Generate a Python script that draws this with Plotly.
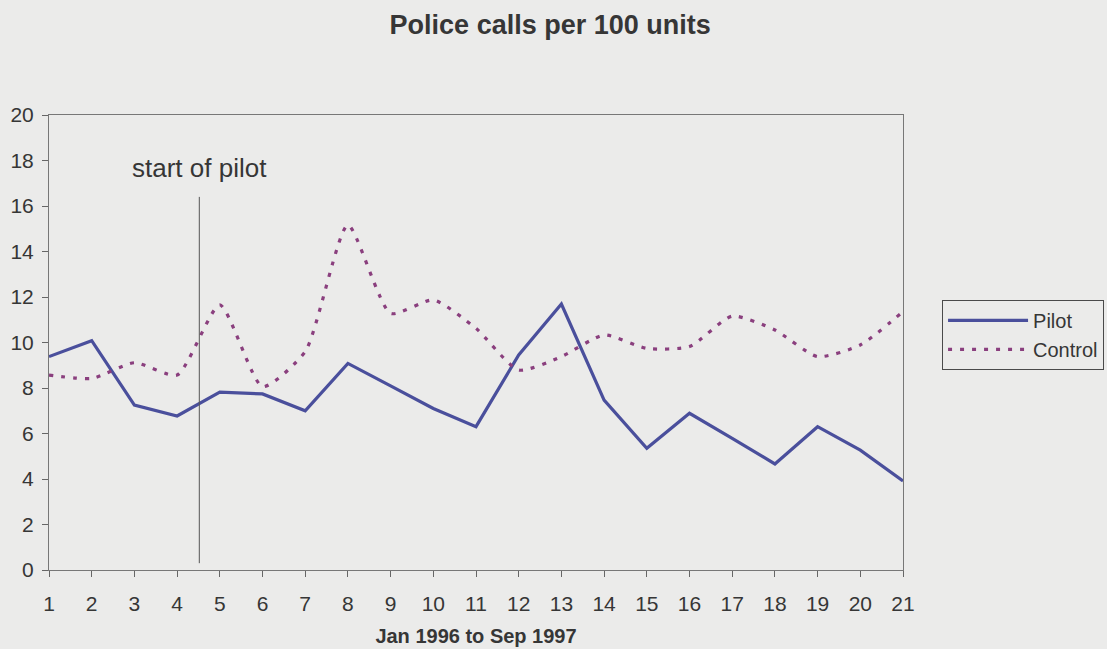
import plotly.graph_objects as go

# Monthly observations, Jan 1996 (1) to Sep 1997 (21)
months = list(range(1, 22))
pilot = [9.38, 10.08, 7.25, 6.77, 7.82, 7.74, 7.0, 9.08, 8.09, 7.1, 6.3,
         9.45, 11.69, 7.47, 5.35, 6.89, 5.79, 4.66, 6.3, 5.27, 3.91]
control = [8.57, 8.42, 9.11, 8.57, 11.65, 8.06, 9.6, 15.16, 11.28, 11.87, 10.62,
           8.79, 9.38, 10.33, 9.74, 9.82, 11.16, 10.55, 9.38, 9.89, 11.36]
y_ticks = list(range(0, 21, 2))

pilot_start = 4.52
bg = "#ebebea"
text_col = "#363636"
font_family = "Liberation Sans, Arial, sans-serif"

fig = go.Figure()
fig.add_trace(go.Scatter(
    x=months, y=pilot, name="Pilot", mode="lines",
    line=dict(color="#4a4f9c", width=3.2),
))
fig.add_trace(go.Scatter(
    x=months, y=control, name="Control", mode="lines",
    line=dict(color="#8a3f7e", width=3.2, dash="4px,8px", shape="spline", smoothing=0.6),
))

# Marker for when the pilot began
fig.add_shape(type="line", xref="x", yref="y",
              x0=pilot_start, x1=pilot_start, y0=0.3, y1=16.4,
              line=dict(color="#555555", width=1))
fig.add_annotation(x=4.53, y=17.67, xref="x", yref="y", text="start of pilot",
                   showarrow=False, font=dict(size=26, color=text_col, family=font_family))

fig.update_layout(
    width=1107, height=649,
    paper_bgcolor=bg, plot_bgcolor=bg,
    margin=dict(l=49, r=204, t=115, b=79, autoexpand=False),
    font=dict(family=font_family, color=text_col, size=21),
    title=dict(text="<b>Police calls per 100 units</b>", x=0.497, xanchor="center",
               y=0.962, yanchor="middle", font=dict(size=27, color=text_col)),
    showlegend=True,
    legend=dict(x=0.851, xanchor="left", y=0.538, yanchor="top",
                yref="container", xref="container", itemwidth=80,
                bgcolor=bg, bordercolor="#4a4a4a", borderwidth=1,
                font=dict(size=20, color=text_col), tracegroupgap=0),
    xaxis=dict(range=[1, 21], tickmode="array", tickvals=months, automargin=False,
               ticks="outside", ticklen=6, tickcolor="#666666",
               showline=True, linecolor="#777777", linewidth=1, mirror=True,
               showgrid=False, zeroline=False, ticklabelstandoff=9,
               title=dict(text="<b>Jan 1996 to Sep 1997</b>", standoff=14,
                          font=dict(size=20, color=text_col))),
    yaxis=dict(range=[0, 20], tickmode="array", tickvals=y_ticks, automargin=False,
               ticks="outside", ticklen=6, tickcolor="#666666",
               showline=True, linecolor="#777777", linewidth=1, mirror=True,
               showgrid=False, zeroline=False, ticklabelstandoff=4),
)

fig.write_html("out.html")
